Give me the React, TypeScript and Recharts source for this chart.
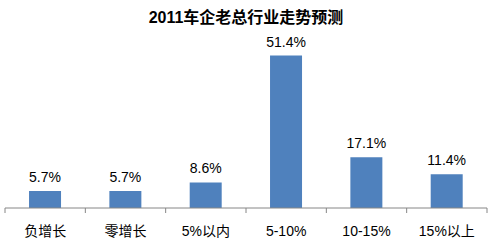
import React from "react";
import { BarChart, Bar, XAxis, YAxis, LabelList } from "recharts";

const categories = ["负增长", "零增长", "5%以内", "5-10%", "10-15%", "15%以上"];
const values = [5.7, 5.7, 8.6, 51.4, 17.1, 11.4];
const title = "2011车企老总行业走势预测";

const data = categories.map((c, i) => ({ name: c, value: values[i] }));

const FONT = "'Liberation Sans', Arial, 'Noto Sans CJK SC', sans-serif";
const AXIS_COLOR = "#868686";

function CatTick(props: any) {
  const { x, y, payload } = props;
  const half = payload.offset || 0;
  const isLast = payload.index === categories.length - 1;
  return (
    <g>
      <line x1={x - half} x2={x - half} y1={y} y2={y + 5} stroke={AXIS_COLOR} />
      {isLast && <line x1={x + half} x2={x + half} y1={y} y2={y + 5} stroke={AXIS_COLOR} />}
      <text x={x} y={y + 28} textAnchor="middle" fill="#000" fontSize={14} fontFamily={FONT}>
        {payload.value}
      </text>
    </g>
  );
}

export default function App() {
  return (
    <div style={{ position: "absolute", left: 0, top: 0, width: 492, height: 247, background: "#fff", fontFamily: FONT }}>
      <div style={{ position: "absolute", left: 0, top: 8, width: 492, textAlign: "center", fontSize: 16, fontWeight: "bold", lineHeight: "20px", color: "#000" }}>
        {title}
      </div>
      <BarChart width={492} height={247} data={data} margin={{ top: 30, right: 5, left: 5, bottom: 0 }}>
        <XAxis
          dataKey="name"
          height={39}
          axisLine={{ stroke: AXIS_COLOR }}
          tickLine={false}
          tickSize={0}
          tickMargin={0}
          interval={0}
          tick={<CatTick />}
        />
        <YAxis hide domain={[0, 60]} />
        <Bar dataKey="value" fill="#4F81BD" isAnimationActive={false} maxBarSize={32}>
          <LabelList
            dataKey="value"
            position="top"
            offset={9}
            formatter={(v: number) => `${v}%`}
            style={{ fill: "#000", fontSize: 14, fontFamily: FONT }}
          />
        </Bar>
      </BarChart>
    </div>
  );
}
